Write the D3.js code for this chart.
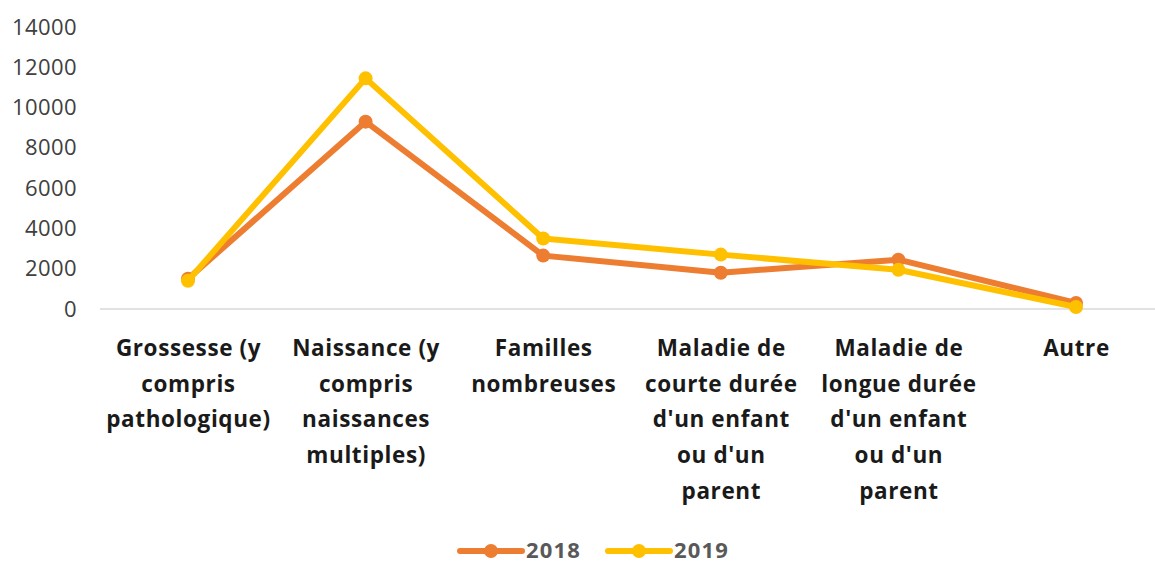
<!DOCTYPE html>
<html>
<head>
<meta charset="utf-8">
<script src="https://cdn.jsdelivr.net/npm/d3@7"></script>
<style>
  html, body { margin: 0; padding: 0; background: #fff; }
  svg { display: block; }
</style>
</head>
<body>
<svg id="chart" width="1155" height="563"></svg>
<script>
// Categories (each entry split into the lines it is printed on)
const categories = [
  ["Grossesse (y", "compris", "pathologique)"],
  ["Naissance (y", "compris", "naissances", "multiples)"],
  ["Familles", "nombreuses"],
  ["Maladie de", "courte durée", "d'un enfant", "ou d'un", "parent"],
  ["Maladie de", "longue durée", "d'un enfant", "ou d'un", "parent"],
  ["Autre"]
];
const seriesNames = ["2018", "2019"];
const values2018 = [1500, 9300, 2650, 1800, 2450, 300];
const values2019 = [1400, 11450, 3500, 2700, 1950, 100];
const yTicks = [0, 2000, 4000, 6000, 8000, 10000, 12000, 14000];
const colors = ["#ED7D31", "#FFC000"];

const series = [values2018, values2019];
const keys = categories.map(c => c.join(" "));
const font = "'Open Sans', sans-serif";

const svg = d3.select("#chart");

const x = d3.scalePoint()
  .domain(keys)
  .range([188, 1076]);

const y = d3.scaleLinear()
  .domain([0, 14000])
  .range([309, 27]);

// Y axis labels
const yAxis = d3.axisLeft(y).tickValues(yTicks).tickSize(0).tickPadding(0).tickFormat(d3.format("d"));
const gy = svg.append("g").attr("transform", "translate(77,0)").call(yAxis);
gy.select(".domain").remove();
gy.selectAll("text")
  .attr("font-family", font)
  .attr("font-size", 22)
  .attr("letter-spacing", 0.4)
  .attr("fill", "#404040");

// Baseline
svg.append("line")
  .attr("x1", 100).attr("x2", 1165)
  .attr("y1", y(0)).attr("y2", y(0))
  .attr("stroke", "#d9d9d9").attr("stroke-width", 1.5);

// Category labels
const xAxis = d3.axisBottom(x).tickSize(0).tickFormat("");
const gx = svg.append("g").attr("transform", `translate(0,${y(0)})`).call(xAxis);
gx.select(".domain").remove();
gx.selectAll(".tick").each(function(d, i) {
  const t = d3.select(this).append("text")
    .attr("text-anchor", "middle")
    .attr("font-family", font)
    .attr("font-weight", "bold")
    .attr("font-size", 22.5)
    .attr("letter-spacing", 0.6)
    .attr("fill", "#1a1a1a");
  categories[i].forEach((line, j) => {
    t.append("tspan").attr("x", 0).attr("y", 47 + j * 35.7).text(line);
  });
});

// Lines and markers
const line = d3.line()
  .x((d, i) => x(keys[i]))
  .y(d => y(d));

series.forEach((vals, s) => {
  svg.append("path")
    .datum(vals)
    .attr("d", line)
    .attr("fill", "none")
    .attr("stroke", colors[s])
    .attr("stroke-width", 6)
    .attr("stroke-linejoin", "round");
  svg.append("g").selectAll("circle")
    .data(vals)
    .join("circle")
    .attr("cx", (d, i) => x(keys[i]))
    .attr("cy", d => y(d))
    .attr("r", 7)
    .attr("fill", colors[s]);
});

// Legend
const legendX = [460, 608];
seriesNames.forEach((name, s) => {
  const g = svg.append("g").attr("transform", `translate(${legendX[s]},551)`);
  g.append("line").attr("x1", 0).attr("x2", 62).attr("y1", 0).attr("y2", 0)
    .attr("stroke", colors[s]).attr("stroke-width", 6).attr("stroke-linecap", "round");
  g.append("circle").attr("cx", 31).attr("cy", 0).attr("r", 7).attr("fill", colors[s]);
  g.append("text").attr("x", 66).attr("y", 7)
    .attr("font-family", font)
    .attr("font-weight", "bold")
    .attr("font-size", 22)
    .attr("letter-spacing", 1.2)
    .attr("fill", "#595959")
    .text(name);
});
</script>
</body>
</html>
